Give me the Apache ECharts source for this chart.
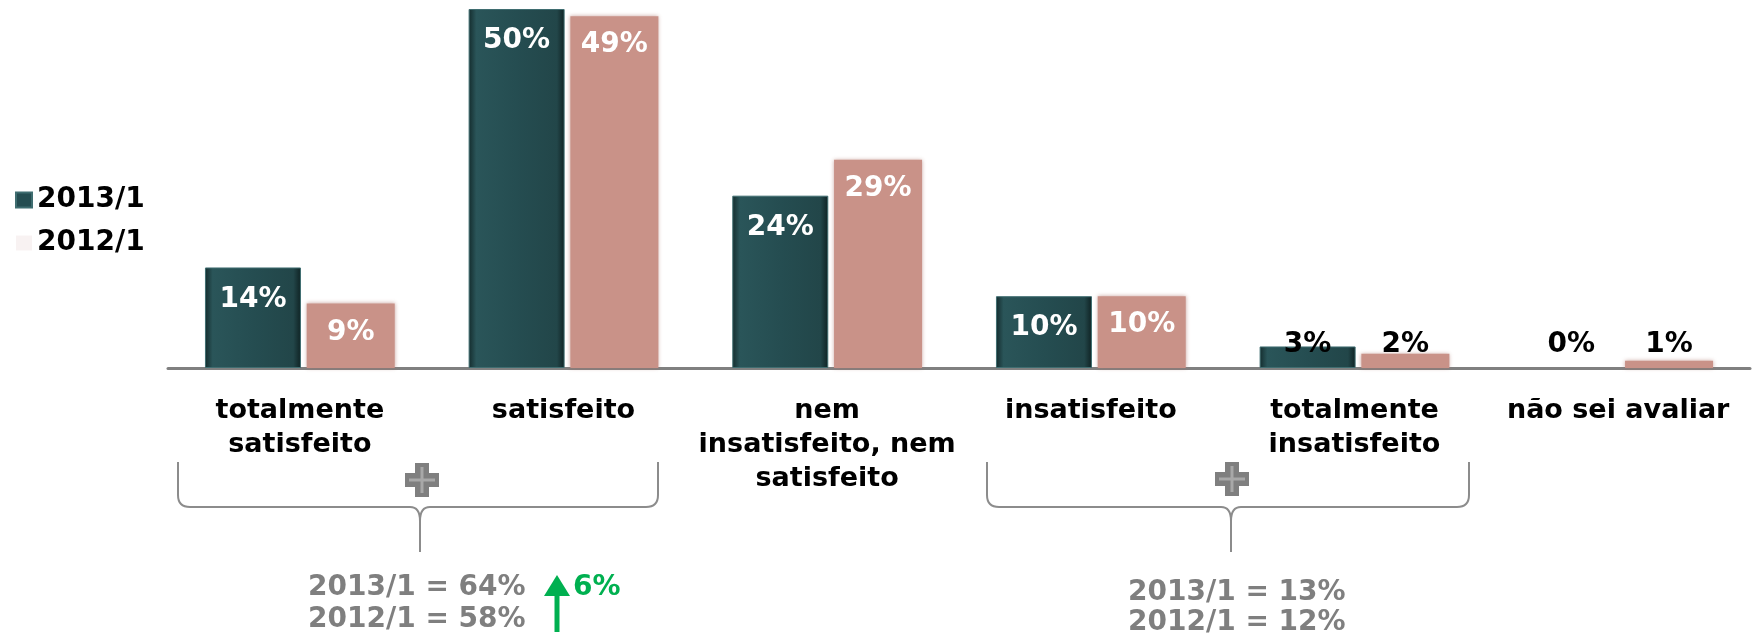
<!DOCTYPE html>
<html>
<head>
<meta charset="utf-8">
<script src="https://cdn.jsdelivr.net/npm/echarts@6/dist/echarts.min.js"></script>
<style>
	html, body { margin: 0; padding: 0; background: #ffffff; }
	#chart { width: 1754px; height: 637px; }
</style>
</head>
<body>
<div id="chart"></div>
<script>
	// categories and values
	var categories = ['totalmente\nsatisfeito', 'satisfeito', 'nem\ninsatisfeito, nem\nsatisfeito', 'insatisfeito', 'totalmente\ninsatisfeito', 'não sei avaliar'];
	var values2013 = [14, 50, 24, 10, 3, 0];
	var values2012 = [9, 49, 29, 10, 2, 1];
	var seriesNames = ['2013/1', '2012/1'];

	var FONT = '"DejaVu Sans", Verdana, sans-serif';
	var smallLimit = 5; // below this the label sits above the bar, in black

	function buildData(values, dist) {
		return values.map(function (v) {
			var item = { value: v };
			if (v < smallLimit) {
				item.label = { position: 'insideBottom', distance: 9, color: '#000000' };
			} else {
				item.label = { position: 'insideTop', distance: dist, color: '#ffffff' };
			}
			if (v === 0) {
				item.itemStyle = { borderWidth: 0 };
			}
			return item;
		});
	}

	var darkColor = {
		type: 'linear', x: 0, y: 0, x2: 1, y2: 0,
		colorStops: [
			{ offset: 0, color: '#142c2d' },
			{ offset: 0.08, color: '#2a5559' },
			{ offset: 0.5, color: '#254d51' },
			{ offset: 0.92, color: '#224649' },
			{ offset: 1, color: '#0f2223' }
		]
	};

	// braces, plus signs and the totals underneath
	var braceStyle = { fill: null, stroke: '#8c8c8c', lineWidth: 2 };
	function seg(x1, y1, x2, y2) {
		return { type: 'line', shape: { x1: x1, y1: y1, x2: x2, y2: y2 }, style: braceStyle };
	}
	function curve(x1, y1, cx, cy, x2, y2) {
		return { type: 'bezierCurve', shape: { x1: x1, y1: y1, cpx1: cx, cpy1: cy, x2: x2, y2: y2 }, style: braceStyle };
	}
	function brace(x1, x2, xm, yTop, yMid, yTip) {
		var r = 12;
		return [
			seg(x1, yTop, x1, yMid - r),
			curve(x1, yMid - r, x1, yMid, x1 + r, yMid),
			seg(x1 + r, yMid, xm - 10, yMid),
			curve(xm - 10, yMid, xm, yMid, xm, yMid + 14),
			seg(xm, yMid + 14, xm, yTip),
			curve(xm, yMid + 14, xm, yMid, xm + 10, yMid),
			seg(xm + 10, yMid, x2 - r, yMid),
			curve(x2 - r, yMid, x2, yMid, x2, yMid - r),
			seg(x2, yMid - r, x2, yTop)
		];
	}

	function plus(cx, cy) {
		return [
			{ type: 'rect', shape: { x: cx - 17, y: cy - 7, width: 34, height: 14 }, style: { fill: '#7f7f7f' } },
			{ type: 'rect', shape: { x: cx - 7, y: cy - 17, width: 14, height: 34 }, style: { fill: '#7f7f7f' } },
			{ type: 'rect', shape: { x: cx - 13, y: cy - 1.5, width: 26, height: 3 }, style: { fill: '#a8a8a8' } },
			{ type: 'rect', shape: { x: cx - 1.5, y: cy - 13, width: 3, height: 26 }, style: { fill: '#a8a8a8' } }
		];
	}

	function note(x, y, txt, color) {
		return {
			type: 'text', x: x, y: y,
			style: { text: txt, fill: color || '#7f7f7f', font: 'bold 28px ' + FONT, verticalAlign: 'middle' }
		};
	}

	var graphics = [].concat(
		brace(178, 658, 420, 462, 507, 552),
		plus(422, 480),
		brace(987, 1469, 1231, 462, 507, 552),
		plus(1232, 479),
		[
			note(308, 588, '2013/1 = 64%'),
			note(308, 620, '2012/1 = 58%'),
			{ type: 'line', shape: { x1: 557, y1: 632, x2: 557, y2: 590 }, style: { stroke: '#00b050', lineWidth: 5 } },
			{ type: 'polygon', shape: { points: [[544, 596], [557, 575], [570, 596]] }, style: { fill: '#00b050' } },
			note(573, 588, '6%', '#00b050'),
			note(1128, 593, '2013/1 = 13%'),
			note(1128, 623, '2012/1 = 12%')
		]
	);

	var chart = echarts.init(document.getElementById('chart'));
	var option = {
		backgroundColor: '#ffffff',
		animation: false,
		legend: {
			orient: 'vertical',
			left: 10,
			top: 181,
			icon: 'rect',
			itemWidth: 16,
			itemHeight: 15,
			itemGap: 15,
			selectedMode: false,
			textStyle: { fontFamily: FONT, fontWeight: 'bold', fontSize: 28, color: '#000000' },
			data: [
				{ name: seriesNames[0], itemStyle: { color: '#254d51' } },
				{ name: seriesNames[1], itemStyle: { color: '#f8f2f2' } }
			]
		},
		grid: { left: 168, right: 4, top: 9, bottom: 269 },
		xAxis: {
			type: 'category',
			data: categories,
			axisLine: { lineStyle: { color: '#808080', width: 3 } },
			axisTick: { show: false },
			axisLabel: {
				interval: 0,
				margin: 26,
				fontFamily: FONT,
				fontWeight: 'bold',
				fontSize: 27,
				lineHeight: 34,
				color: '#000000'
			}
		},
		yAxis: { type: 'value', min: 0, max: 50, show: false, splitLine: { show: false } },
		series: [
			{
				name: seriesNames[0],
				type: 'bar',
				barWidth: 96,
				barGap: '6%',
				data: buildData(values2013, 18),
				itemStyle: { color: darkColor, borderColor: '#3f6d70', borderWidth: 1 },
				label: {
					show: true,
					formatter: '{c}%',
					fontFamily: FONT,
					fontWeight: 'bold',
					fontSize: 28
				}
			},
			{
				name: seriesNames[1],
				type: 'bar',
				barWidth: 88,
				barGap: '6%',
				data: buildData(values2012, 15),
				itemStyle: { color: '#c99288', shadowBlur: 4, shadowColor: 'rgba(170,110,100,0.6)' },
				label: {
					show: true,
					formatter: '{c}%',
					fontFamily: FONT,
					fontWeight: 'bold',
					fontSize: 28
				}
			}
		],
		graphic: graphics
	};
	chart.setOption(option);
	window.addEventListener('resize', function () {
		chart.resize();
	});
</script>
</body>
</html>
